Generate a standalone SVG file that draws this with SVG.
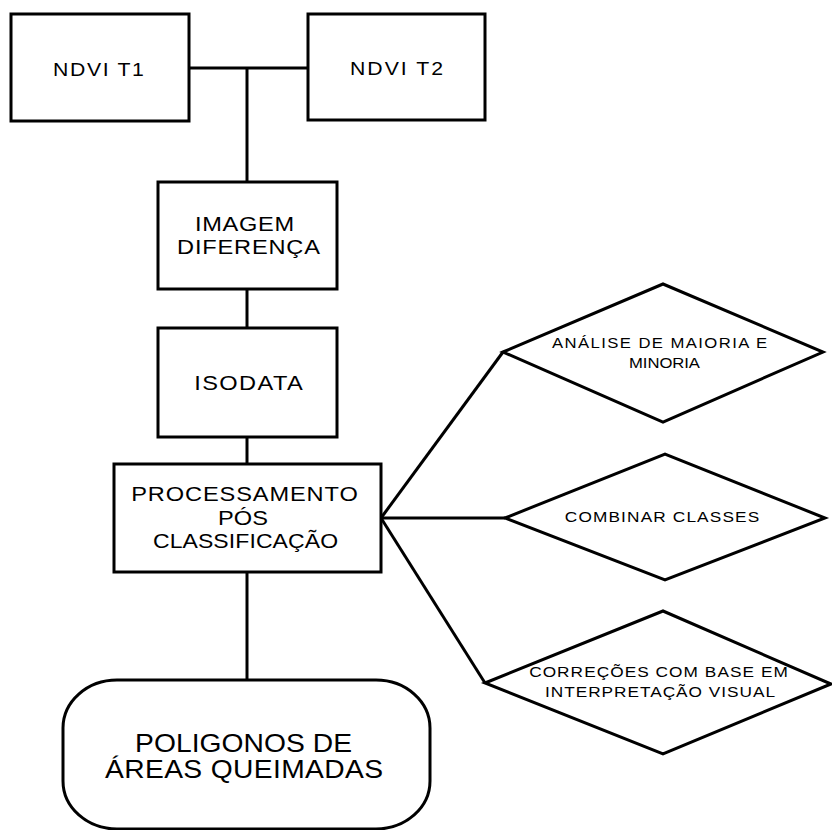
<svg xmlns="http://www.w3.org/2000/svg" width="832" height="830" viewBox="0 0 832 830">
<style>
.box{fill:#fff;stroke:#000;stroke-width:3}
.ln{stroke:#000;stroke-width:3;fill:none}
text{font-family:"Liberation Sans",Arial,sans-serif;fill:#000;text-anchor:middle}
.t20{font-size:20px}
.t18{font-size:18px}
.t14{font-size:14.5px}
.t15{font-size:15px}
.t25{font-size:25px}
</style>
<rect width="832" height="830" fill="#fff"/>
<g id="connectors">
<line class="ln" x1="189" y1="68" x2="308" y2="68"/>
<line class="ln" x1="247" y1="68" x2="247" y2="182"/>
<line class="ln" x1="247" y1="289" x2="247" y2="328"/>
<line class="ln" x1="247" y1="437" x2="247" y2="464"/>
<line class="ln" x1="247" y1="572" x2="247" y2="680"/>
<line class="ln" x1="381" y1="518" x2="503" y2="352"/>
<line class="ln" x1="381" y1="518" x2="505" y2="518"/>
<line class="ln" x1="381" y1="518" x2="485" y2="683"/>
</g>
<g id="ndvi_t1">
<rect class="box" x="11" y="14" width="178" height="107"/>
<text class="t18" transform="translate(98.5,76) scale(1.18,1)" textLength="77" lengthAdjust="spacing">NDVI T1</text>
</g>
<g id="ndvi_t2">
<rect class="box" x="308" y="14" width="177" height="106"/>
<text class="t18" transform="translate(396.5,75) scale(1.18,1)" textLength="79" lengthAdjust="spacing">NDVI T2</text>
</g>
<g id="imagem_diferenca">
<rect class="box" x="158" y="182" width="179" height="107"/>
<text class="t20" transform="translate(244.5,231) scale(1.18,1)" textLength="84" lengthAdjust="spacing">IMAGEM</text>
<text class="t20" transform="translate(248.5,254) scale(1.18,1)" textLength="121" lengthAdjust="spacing">DIFERENÇA</text>
</g>
<g id="isodata">
<rect class="box" x="158" y="328" width="179" height="109"/>
<text class="t20" transform="translate(248.5,390) scale(1.18,1)" textLength="92" lengthAdjust="spacing">ISODATA</text>
</g>
<g id="processamento">
<rect class="box" x="114" y="464" width="267" height="108"/>
<text class="t20" transform="translate(244.5,501) scale(1.18,1)" textLength="192" lengthAdjust="spacing">PROCESSAMENTO</text>
<text class="t20" transform="translate(243,525) scale(1.18,1)" textLength="42.4" lengthAdjust="spacing">PÓS</text>
<text class="t20" transform="translate(245.5,548) scale(1.15,1)" textLength="161" lengthAdjust="spacing">CLASSIFICAÇÃO</text>
</g>
<g id="poligonos">
<rect class="box" x="63" y="680" width="367" height="149" rx="54" ry="48"/>
<text class="t25" transform="translate(243.5,752) scale(1.13,1)" textLength="192" lengthAdjust="spacing">POLIGONOS DE</text>
<text class="t25" transform="translate(244,778) scale(1.13,1)" textLength="246" lengthAdjust="spacing">ÁREAS QUEIMADAS</text>
</g>
<g id="analise">
<polygon class="box" points="503,352 663,284 823,352 663,422"/>
<text class="t14" transform="translate(659.5,347.5) scale(1.15,1)" textLength="187" lengthAdjust="spacing">ANÁLISE DE MAIORIA E</text>
<text class="t14" transform="translate(664.5,368) scale(1.15,1)" textLength="61.7" lengthAdjust="spacing">MINORIA</text>
</g>
<g id="combinar">
<polygon class="box" points="505,518 665,454 825,518 665,580"/>
<text class="t15" transform="translate(662,522) scale(1.15,1)" textLength="169" lengthAdjust="spacing">COMBINAR CLASSES</text>
</g>
<g id="correcoes">
<polygon class="box" points="485,683 663,611 831,684 663,754"/>
<text class="t15" transform="translate(658.5,677) scale(1.15,1)" textLength="225" lengthAdjust="spacing">CORREÇÕES COM BASE EM</text>
<text class="t15" transform="translate(660,697) scale(1.15,1)" textLength="200" lengthAdjust="spacing">INTERPRETAÇÃO VISUAL</text>
</g>
</svg>
